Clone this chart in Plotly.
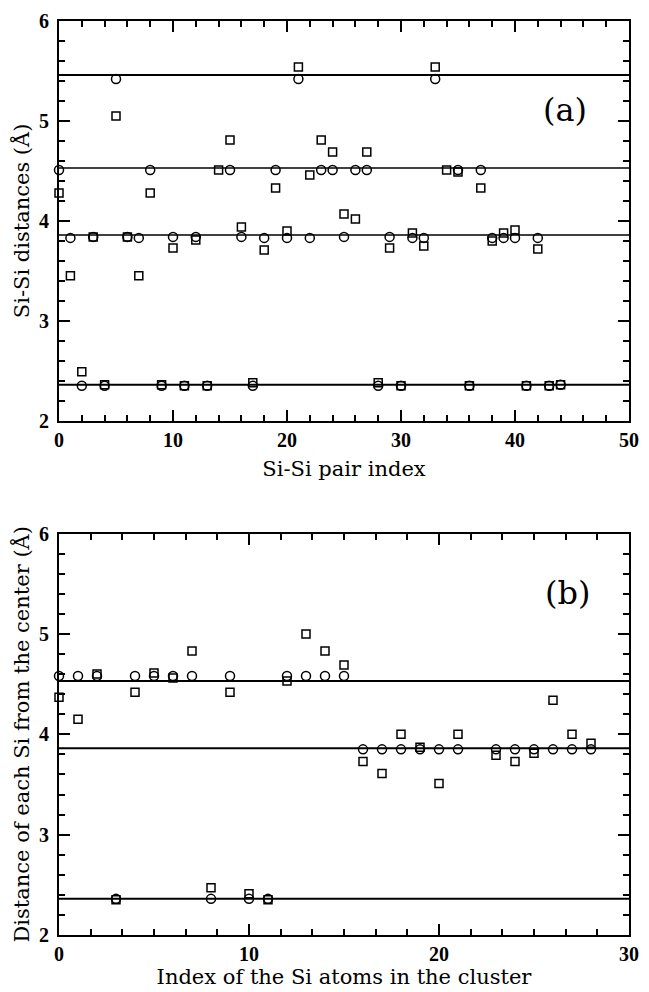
import plotly.graph_objects as go

# ---------------- Panel (a) data ----------------
pair_index = list(range(45))
a_circles = [4.51, 3.83, 2.35, 3.84, 2.35, 5.42, 3.84, 3.83, 4.51, 2.35,
             3.84, 2.35, 3.84, 2.35, None, 4.51, 3.84, 2.35, 3.83, 4.51,
             3.83, 5.42, 3.83, 4.51, 4.51, 3.84, 4.51, 4.51, 2.35, 3.84,
             2.35, 3.83, 3.83, 5.42, None, 4.51, 2.35, 4.51, 3.83, 3.83,
             3.83, 2.35, 3.83, 2.35, 2.36]
a_squares = [4.28, 3.45, 2.49, 3.84, 2.36, 5.05, 3.84, 3.45, 4.28, 2.36,
             3.73, 2.35, 3.81, 2.35, 4.51, 4.81, 3.94, 2.38, 3.71, 4.33,
             3.90, 5.54, 4.46, 4.81, 4.69, 4.07, 4.02, 4.69, 2.38, 3.73,
             2.35, 3.88, 3.75, 5.54, 4.51, 4.49, 2.35, 4.33, 3.80, 3.88,
             3.91, 2.35, 3.72, 2.35, 2.36]
a_levels = [5.46, 4.53, 3.86, 2.36]
a_level_widths = [2, 1.5, 1.5, 2]
a_xrange = [0, 50]

# ---------------- Panel (b) data ----------------
atom_index = list(range(29))
b_circles = [4.58, 4.58, 4.58, 2.36, 4.58, 4.58, 4.58, 4.58, 2.36, 4.58,
             2.36, 2.36, 4.58, 4.58, 4.58, 4.58, 3.85, 3.85, 3.85, 3.85,
             3.85, 3.85, None, 3.85, 3.85, 3.85, 3.85, 3.85, 3.85]
b_squares = [4.37, 4.15, 4.60, 2.35, 4.42, 4.61, 4.56, 4.83, 2.47, 4.42,
             2.41, 2.35, 4.53, 5.00, 4.83, 4.69, 3.73, 3.61, 4.00, 3.87,
             3.51, 4.00, None, 3.79, 3.73, 3.81, 4.34, 4.00, 3.91]
b_levels = [4.53, 3.86, 2.36]
b_xrange = [0, 30]

TICKFONT = "Liberation Serif"
TEXTFONT = "DejaVu Serif"

fig = go.Figure()

def add_panel(xs, circ, sq, levels, widths, xr, xa, ya):
    for lv, w in zip(levels, widths):
        fig.add_trace(go.Scatter(x=xr, y=[lv, lv], mode="lines",
                                 line=dict(color="black", width=w),
                                 xaxis=xa, yaxis=ya, showlegend=False,
                                 hoverinfo="skip"))
    fig.add_trace(go.Scatter(x=xs, y=circ, mode="markers", cliponaxis=False,
                             marker=dict(symbol="circle-open", size=9,
                                         color="black", line=dict(width=1.5)),
                             xaxis=xa, yaxis=ya, showlegend=False))
    fig.add_trace(go.Scatter(x=xs, y=sq, mode="markers", cliponaxis=False,
                             marker=dict(symbol="square-open", size=8,
                                         color="black", line=dict(width=1.5)),
                             xaxis=xa, yaxis=ya, showlegend=False))

add_panel(pair_index, a_circles, a_squares, a_levels, a_level_widths,
          a_xrange, "x", "y")
add_panel(atom_index, b_circles, b_squares, b_levels, [2, 2, 2],
          b_xrange, "x2", "y2")

tickfont = dict(family=TICKFONT, size=20, color="black", weight="bold")
titlefont = dict(family=TEXTFONT, size=21, color="black")

def axis_common():
    return dict(showline=True, linecolor="black", linewidth=2, mirror="ticks",
                ticks="inside", ticklen=11, tickwidth=1.5, tickcolor="black",
                showgrid=False, zeroline=False, tickfont=tickfont)

def minor(dt, t0):
    return dict(dtick=dt, tick0=t0, ticks="inside", ticklen=6,
                tickwidth=1.5, tickcolor="black", showgrid=False)

xa1 = axis_common()
xa1.update(domain=[0, 1], range=a_xrange, dtick=10, tick0=0, anchor="y",
           minor=minor(2, 0),
           title=dict(text="Si-Si pair index", font=titlefont, standoff=12))
ya1 = axis_common()
ya1.update(domain=[0.5626, 1.0], range=[2, 6], dtick=1, tick0=2, anchor="x",
           minor=minor(0.2, 2), ticklabelstandoff=4,
           title=dict(text="Si-Si distances (Å)", font=titlefont, standoff=4))
xa2 = axis_common()
xa2.update(domain=[0, 1], range=b_xrange, dtick=10, tick0=0, anchor="y2",
           minor=minor(10 / 6, 0),
           title=dict(text="Index of the Si atoms in the cluster",
                      font=titlefont, standoff=2))
ya2 = axis_common()
ya2.update(domain=[0, 0.4392], range=[2, 6], dtick=1, tick0=2, anchor="x2",
           minor=minor(0.2, 2), ticklabelstandoff=4,
           title=dict(text="Distance of each Si from the center (Å)",
                      font=titlefont, standoff=4))

fig.update_layout(
    width=649, height=992,
    margin=dict(l=59, r=10, t=14, b=52),
    paper_bgcolor="white", plot_bgcolor="white",
    xaxis=xa1, yaxis=ya1, xaxis2=xa2, yaxis2=ya2,
    annotations=[
        dict(text="(a)", x=44.4, y=5.11, xref="x", yref="y", showarrow=False,
             font=dict(family=TEXTFONT, size=32, color="black")),
        dict(text="(b)", x=26.77, y=5.41, xref="x2", yref="y2", showarrow=False,
             font=dict(family=TEXTFONT, size=32, color="black")),
    ],
)

fig.write_html("out.html")
